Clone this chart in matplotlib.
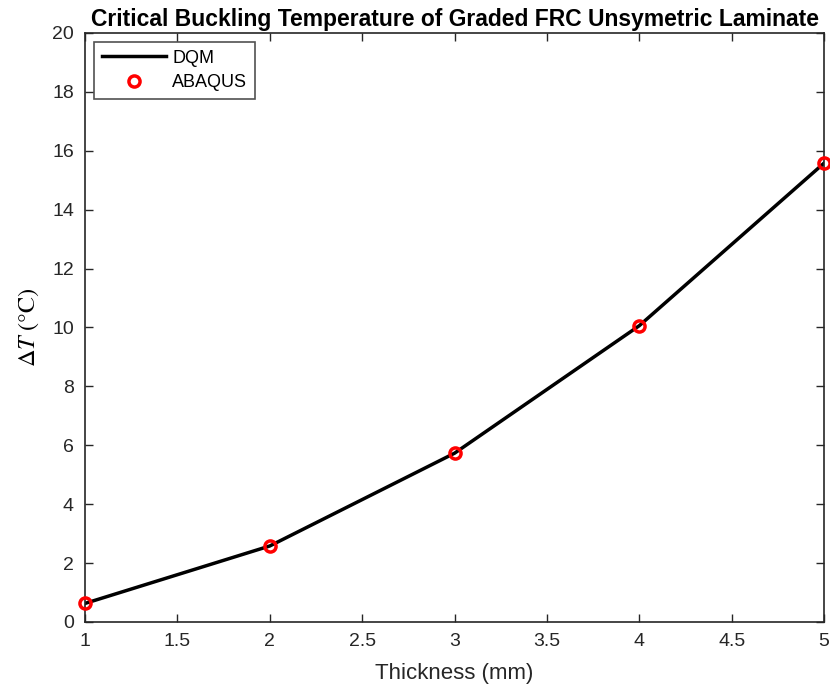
import matplotlib
matplotlib.use("Agg")
import matplotlib.pyplot as plt

thickness = [1, 2, 3, 4, 5]
dqm = [0.63, 2.58, 5.73, 10.06, 15.58]
abaqus = [0.63, 2.58, 5.73, 10.06, 15.58]
xticks = [1, 1.5, 2, 2.5, 3, 3.5, 4, 4.5, 5]
yticks = list(range(0, 21, 2))

plt.rcParams['font.family'] = ['Liberation Sans', 'DejaVu Sans']
plt.rcParams['mathtext.fontset'] = 'stix'
fig = plt.figure(figsize=(8.3, 6.93), dpi=100)
ax = fig.add_axes([0.1024, 0.1025, 0.8904, 0.8499])

ax.plot(thickness, dqm, color='black', lw=2.5, label='DQM', zorder=2)
ax.plot(thickness, abaqus, ls='none', marker='o', ms=8, mfc='none', mec='red', mew=2.5,
        label='ABAQUS', zorder=3, clip_on=False)

ax.set_xlim(1, 5)
ax.set_ylim(0, 20)
ax.set_xticks(xticks)
ax.set_xticklabels([f"{t:g}" for t in xticks])
ax.set_yticks(yticks)
tc = '#262626'
ax.tick_params(direction='in', top=True, right=True, length=6, width=1, colors=tc,
               labelsize=14, labelcolor=tc, pad=8)
for s in ax.spines.values():
    s.set_color('#262626')
    s.set_linewidth(1.2)

ax.set_xlabel('Thickness (mm)', fontsize=16, color=tc, labelpad=9)
ax.set_ylabel(r'$\Delta T\ (°\mathrm{C})$', fontsize=17.5, color='black', labelpad=8)
ax.set_title('Critical Buckling Temperature of Graded FRC Unsymetric Laminate',
             fontsize=16.5, fontweight='bold', pad=5)

leg = ax.legend(loc='upper left', fontsize=13, frameon=True, fancybox=False,
                edgecolor='#262626', borderaxespad=0.5, handlelength=3.55,
                handletextpad=0.35, labelspacing=0.42, borderpad=0.42)
leg.get_frame().set_linewidth(1.2)

fig.savefig('out.png', dpi=100)
